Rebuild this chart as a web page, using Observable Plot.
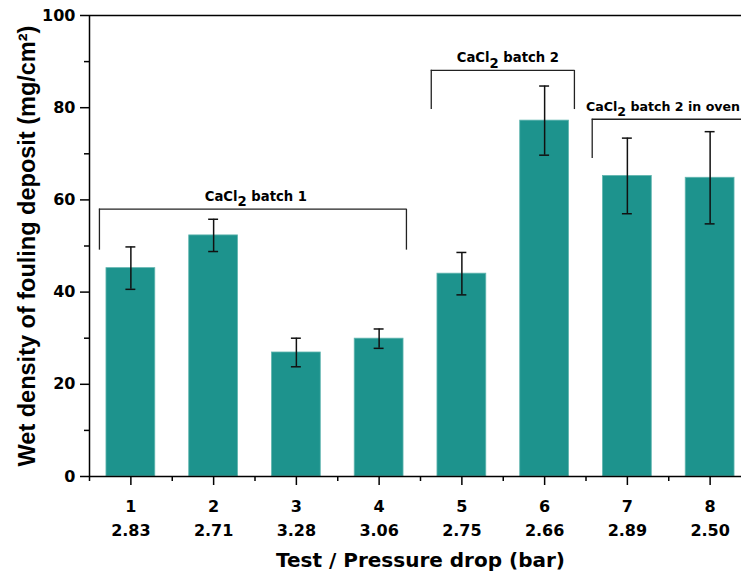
<!DOCTYPE html>
<html>
<head>
<meta charset="utf-8">
<script src="https://cdn.jsdelivr.net/npm/d3@7"></script>
<script src="https://cdn.jsdelivr.net/npm/@observablehq/plot@0.6"></script>
<style>
  html, body { margin: 0; padding: 0; background: white; overflow: hidden; }
</style>
</head>
<body>
<div id="chart"></div>
<script>
// ---- data ----
const tests = [1, 2, 3, 4, 5, 6, 7, 8];
const pressureDrop = ["2.83", "2.71", "3.28", "3.06", "2.75", "2.66", "2.89", "2.50"];
const density = [45.2, 52.3, 26.9, 29.9, 44.0, 77.2, 65.2, 64.8];
const errorBar = [4.6, 3.5, 3.1, 2.1, 4.6, 7.5, 8.2, 10.0];

const yMajorTicks = [0, 20, 40, 60, 80, 100];
const yMinorTicks = [10, 30, 50, 70, 90];
const xMinorTicks = [0.5, 1.5, 2.5, 3.5, 4.5, 5.5, 6.5, 7.5, 8.5];

const bracketLabels = ["CaCl2 batch 1", "CaCl2 batch 2", "CaCl2 batch 2 in oven"];
const bracketStart = [0.62, 4.63, 6.575];
const bracketEnd = [4.33, 6.36, 8.8];
const bracketTop = [58.0, 88.1, 77.5];
const bracketFoot = [49.1, 79.6, 69.0];
const labelX = [2.51, 5.556, 6.5];
const labelAnchor = ["middle", "middle", "start"];

const xTitle = "Test / Pressure drop (bar)";
const yTitle = "Wet density of fouling deposit (mg/cm²)";

// ---- tables ----
const rows = tests.map((t, i) => ({test: t, density: density[i], err: errorBar[i]}));
const brackets = bracketLabels.map((l, i) => ({
  label: l, x1: bracketStart[i], x2: bracketEnd[i], top: bracketTop[i], foot: bracketFoot[i],
  lx: labelX[i], anchor: labelAnchor[i]
}));
const bracketFeet = brackets.flatMap(b => [{x: b.x1, y1: b.foot, y2: b.top}, {x: b.x2, y1: b.foot, y2: b.top}]);

const barColor = "#1d938d";
const halfBar = 0.295;
const halfCap = 0.06;
const tickFont = 16;

const chart = Plot.plot({
  width: 741,
  height: 576,
  marginLeft: 89,
  marginRight: -10,
  marginTop: 15,
  marginBottom: 100,
  x: {domain: [0.5, 8.5]},
  y: {domain: [0, 100]},
  style: {fontFamily: "'DejaVu Sans', sans-serif", fontWeight: "bold", fontSize: "16px", color: "#000", background: "white"},
  marks: [
    Plot.rectY(rows, {x1: d => d.test - halfBar, x2: d => d.test + halfBar, y1: 0, y2: "density",
      fill: barColor, stroke: "#62b6b0", strokeWidth: 0.8}),
    Plot.ruleX(rows, {x: "test", y1: d => d.density - d.err, y2: d => d.density + d.err, stroke: "#111", strokeWidth: 1.5}),
    Plot.ruleY(rows, {y: d => d.density + d.err, x1: d => d.test - halfCap, x2: d => d.test + halfCap, stroke: "#111", strokeWidth: 1.5}),
    Plot.ruleY(rows, {y: d => d.density - d.err, x1: d => d.test - halfCap, x2: d => d.test + halfCap, stroke: "#111", strokeWidth: 1.5}),
    // brackets
    Plot.ruleY(brackets, {y: "top", x1: "x1", x2: "x2", stroke: "#222", strokeWidth: 1.3}),
    Plot.ruleX(bracketFeet, {x: "x", y1: "y1", y2: "y2", stroke: "#222", strokeWidth: 1.3}),
    Plot.text(brackets.filter(b => b.anchor === "middle"), {x: "lx", y: "top", text: "label", textAnchor: "middle",
      lineAnchor: "bottom", dy: -8, fontSize: 13.2, fill: "#000"}),
    Plot.text(brackets.filter(b => b.anchor === "start"), {x: "lx", y: "top", text: "label", textAnchor: "start",
      lineAnchor: "bottom", dy: -8, fontSize: 12.6, fill: "#000"}),
    // frame lines
    Plot.ruleY([0, 100], {stroke: "#000", strokeWidth: 1.5}),
    Plot.ruleX([0.5], {stroke: "#000", strokeWidth: 1.5}),
    // axes
    Plot.axisY({ticks: yMajorTicks, tickSize: 9, tickPadding: 5, strokeWidth: 1.5, label: null,
      fontSize: tickFont, fontWeight: "bold", fill: "#000"}),
    Plot.axisY({ticks: yMinorTicks, tickSize: 5, text: null, strokeWidth: 1.5, label: null}),
    Plot.axisX({ticks: tests, tickSize: 9, tickPadding: 9, strokeWidth: 1.5, label: null, lineHeight: 1.5,
      fontSize: tickFont, fontWeight: "bold", fill: "#000",
      tickFormat: d => `${d}\n${pressureDrop[tests.indexOf(d)]}`}),
    Plot.axisX({ticks: xMinorTicks, tickSize: 5, text: null, strokeWidth: 1.5, label: null}),
    // titles
    Plot.text([xTitle], {frameAnchor: "bottom", dy: 84, lineAnchor: "middle", fontSize: 20, fill: "#000"}),
    Plot.text([yTitle], {frameAnchor: "left", rotate: -90, dx: -62, textAnchor: "middle", lineAnchor: "middle",
      fontFamily: "'Liberation Sans', Arial, sans-serif", fontSize: 23.5, fill: "#000"})
  ]
});

// subscript the "2" of CaCl2
const NS = "http://www.w3.org/2000/svg";
chart.querySelectorAll("text").forEach(t => {
  if (t.children.length === 0 && t.textContent.startsWith("CaCl2")) {
    const rest = t.textContent.slice(5);
    t.textContent = "";
    const a = document.createElementNS(NS, "tspan"); a.textContent = "CaCl";
    const b = document.createElementNS(NS, "tspan"); b.textContent = "2"; b.setAttribute("dy", "0.4em");
    const c = document.createElementNS(NS, "tspan"); c.textContent = rest; c.setAttribute("dy", "-0.4em");
    t.append(a, b, c);
  }
});

document.getElementById("chart").append(chart);
</script>
</body>
</html>
